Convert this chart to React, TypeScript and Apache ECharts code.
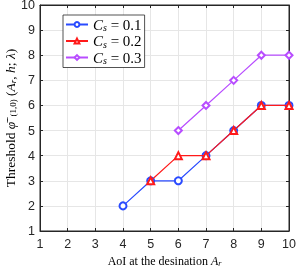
import React, { useEffect, useRef } from "react";
import * as echarts from "echarts";

const cs01X = [4, 5, 6, 7, 8, 9, 10];
const cs01Y = [2, 3, 3, 4, 5, 6, 6];
const cs02X = [5, 6, 7, 8, 9, 10];
const cs02Y = [3, 4, 4, 5, 6, 6];
const cs03X = [6, 7, 8, 9, 10];
const cs03Y = [5, 6, 7, 8, 8];
const seriesNames = ["Cs01", "Cs02", "Cs03"];
const legendValues = ["0.1", "0.2", "0.3"];

const pair = (xs: number[], ys: number[]) => xs.map((x, i) => [x, ys[i]]);

export default function App() {
  const ref = useRef<HTMLDivElement>(null);
  useEffect(() => {
    if (!ref.current) return;
    const chart = echarts.init(ref.current, undefined, { renderer: "svg" });
    const axisColor = "#262626";
    const serif = "'Liberation Serif', 'DejaVu Serif', serif";
    const sans = "'Liberation Sans', Arial, sans-serif";
    const mkSeries = (name: string, data: number[][], color: string, symbol: string, z: number) => ({
      name,
      type: "line",
      data,
      z,
      symbol,
      symbolSize: 7,
      lineStyle: { color, width: 1.2 },
      itemStyle: { color, borderColor: color, borderWidth: 1.2 },
      emphasis: { disabled: true },
    });
    const legendRich = {
      c: { fontFamily: serif, fontStyle: "italic", fontSize: 15, color: "#000" },
      s: { fontFamily: serif, fontStyle: "italic", fontSize: 10, color: "#000", padding: [6, 0, 0, 0] },
      t: { fontFamily: serif, fontSize: 15, color: "#000" },
    };
    const yn = { fontFamily: serif, fontSize: 13.5, fill: "#000" };
    const ys = { fontFamily: serif, fontSize: 9, fill: "#000" };
    chart.setOption({
      animation: false,
      grid: {
        left: 40, right: 10, top: 5, bottom: 37,
        outerBoundsMode: "none",
        containLabel: false,
        show: true, borderColor: axisColor, borderWidth: 1, backgroundColor: "#fff",
      },
      graphic: [
        {
          type: "text",
          x: 10,
          y: 118,
          rotation: Math.PI / 2,
          style: {
            text: "{t|Threshold }{p|φ̄}{u|−}{l|(1,0)}{t| (}{i|A}{r|r}{t|, }{i|h}{t|; }{i|λ}{t|)}",
            align: "center",
            verticalAlign: "middle",
            rich: {
              t: yn,
              p: { ...yn, fontStyle: "italic" },
              i: { ...yn, fontStyle: "italic" },
              u: { ...ys, padding: [0, 0, 6, 0] },
              l: { ...ys, padding: [6, 0, 0, 0] },
              r: { ...ys, fontStyle: "italic", padding: [5, 0, 0, 0] },
            },
          },
        },
      ],
      legend: {
        data: seriesNames,
        left: 63,
        top: 15,
        orient: "vertical",
        backgroundColor: "#fff",
        borderColor: axisColor,
        borderWidth: 0.8,
        borderRadius: 0,
        padding: [2, 3, 2, 2],
        itemGap: 1,
        itemWidth: 22,
        itemHeight: 6,
        formatter: (n: string) => {
          const i = seriesNames.indexOf(n);
          return "{c|C}{s|s}{t| = " + legendValues[i] + "}";
        },
        textStyle: { rich: legendRich },
      },
      xAxis: [
        {
          type: "value",
          min: 1,
          max: 10,
          interval: 1,
          name: "{t|AoI at the desination }{a|A}{r|r}",
          nameLocation: "middle",
          nameGap: 22,
          nameTextStyle: {
            rich: {
              t: { fontFamily: serif, fontSize: 12, color: "#000" },
              a: { fontFamily: serif, fontSize: 12, fontStyle: "italic", color: "#000" },
              r: { fontFamily: serif, fontSize: 8, fontStyle: "italic", color: "#000", padding: [5, 0, 0, 0] },
            },
          },
          axisLine: { show: true, lineStyle: { color: axisColor } },
          axisTick: { show: true, inside: true, length: 3, lineStyle: { color: axisColor } },
          axisLabel: { color: axisColor, fontFamily: sans, fontSize: 12.5, margin: 6 },
          splitLine: { show: true, lineStyle: { color: "#e6e6e6", width: 1 } },
        },
        {
          type: "value",
          position: "top",
          min: 1,
          max: 10,
          interval: 1,
          axisLine: { show: true, lineStyle: { color: axisColor } },
          axisTick: { show: true, inside: true, length: 3, lineStyle: { color: axisColor } },
          axisLabel: { show: false },
          splitLine: { show: false },
        },
      ],
      yAxis: [
        {
          type: "value",
          min: 1,
          max: 10,
          interval: 1,
          axisLine: { show: true, lineStyle: { color: axisColor } },
          axisTick: { show: true, inside: true, length: 3, lineStyle: { color: axisColor } },
          axisLabel: { color: axisColor, fontFamily: sans, fontSize: 12.5, margin: 5 },
          splitLine: { show: true, lineStyle: { color: "#e6e6e6", width: 1 } },
        },
        {
          type: "value",
          position: "right",
          min: 1,
          max: 10,
          interval: 1,
          axisLine: { show: true, lineStyle: { color: axisColor } },
          axisTick: { show: true, inside: true, length: 3, lineStyle: { color: axisColor } },
          axisLabel: { show: false },
          splitLine: { show: false },
        },
      ],
      series: [
        mkSeries(seriesNames[0], pair(cs01X, cs01Y), "#2a4bff", "emptyCircle", 3),
        mkSeries(seriesNames[1], pair(cs02X, cs02Y), "#ff1a1a", "emptyTriangle", 4),
        mkSeries(seriesNames[2], pair(cs03X, cs03Y), "#b84dff", "emptyDiamond", 5),
      ],
    });
    return () => chart.dispose();
  }, []);
  return <div ref={ref} style={{ position: "fixed", left: 0, top: 0, width: 299, height: 268 }} />;
}
